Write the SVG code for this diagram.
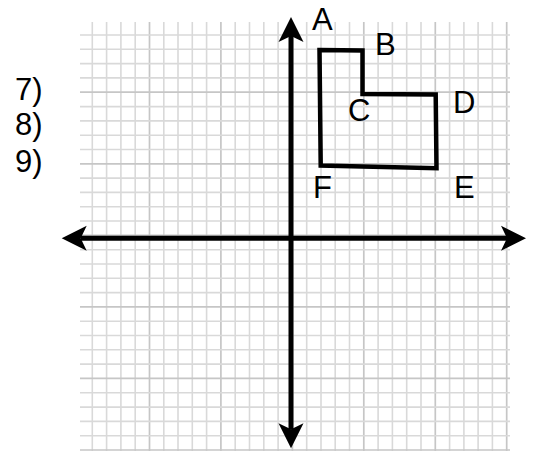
<svg xmlns="http://www.w3.org/2000/svg" width="534" height="451" viewBox="0 0 534 451">
<style>
.minor{stroke:#d9d9d9;stroke-width:1.6;fill:none}
.major{stroke:#c6c6c6;stroke-width:1.7;fill:none}
.axis{stroke:#000;stroke-width:5;fill:none}
.shape{stroke:#000;stroke-width:4.5;fill:none;stroke-linejoin:miter}
text{font-family:"Liberation Sans",Arial,Helvetica,sans-serif;font-size:31px;fill:#000}
</style>
<defs>
<marker id="arr" markerUnits="userSpaceOnUse" viewBox="0 -13 26 26" markerWidth="26" markerHeight="26" refX="6" refY="0" orient="auto-start-reverse" overflow="visible">
<path d="M0,-12.5 L25,0 L0,12.5 L6,0 Z" fill="#000"/>
</marker>
</defs>
<rect width="534" height="451" fill="#fff"/>
<g id="grid">
<path class="minor" d="M92.3 22V451M106.6 22V451M120.9 22V451M135.2 22V451M163.8 22V451M178 22V451M192.3 22V451M206.6 22V451M235.2 22V451M249.5 22V451M263.8 22V451M278.1 22V451M306.7 22V451M321 22V451M335.2 22V451M349.5 22V451M378.1 22V451M392.4 22V451M406.7 22V451M421 22V451M449.6 22V451M463.9 22V451M478.1 22V451M492.4 22V451"/>
<path class="major" d="M149.5 22V451M220.9 22V451M292.4 22V451M363.8 22V451M435.3 22V451M506.7 22V451"/>
<path class="minor" d="M80 35H510M80 49.3H510M80 63.6H510M80 77.9H510M80 106.6H510M80 120.9H510M80 135.2H510M80 149.5H510M80 178.1H510M80 192.4H510M80 206.7H510M80 221H510M80 249.7H510M80 264H510M80 278.3H510M80 292.6H510M80 321.2H510M80 335.5H510M80 349.8H510M80 364.1H510M80 392.8H510M80 407.1H510M80 421.4H510M80 435.7H510"/>
<path class="major" d="M80 92.2H510M80 163.8H510M80 235.3H510M80 306.9H510M80 378.4H510M80 450H510"/>
</g>
<g id="axes">
<line class="axis" x1="291" y1="36" x2="291" y2="429.3" marker-start="url(#arr)" marker-end="url(#arr)"/>
<line class="axis" x1="80.7" y1="238.3" x2="507" y2="238.3" marker-start="url(#arr)" marker-end="url(#arr)"/>
</g>
<g id="figure">
<polygon class="shape" points="319.5,50 362.5,50.5 362.5,94 435.7,94.5 436.5,168.3 320.7,165.5"/>
</g>
<g id="labels">
<text x="312" y="30">A</text>
<text x="375" y="55">B</text>
<text x="348" y="121">C</text>
<text x="453" y="112.5">D</text>
<text x="454" y="197.5">E</text>
<text x="313" y="197.5">F</text>
<text x="15" y="99.5">7)</text>
<text x="15" y="135">8)</text>
<text x="15" y="171.5">9)</text>
</g>
</svg>
